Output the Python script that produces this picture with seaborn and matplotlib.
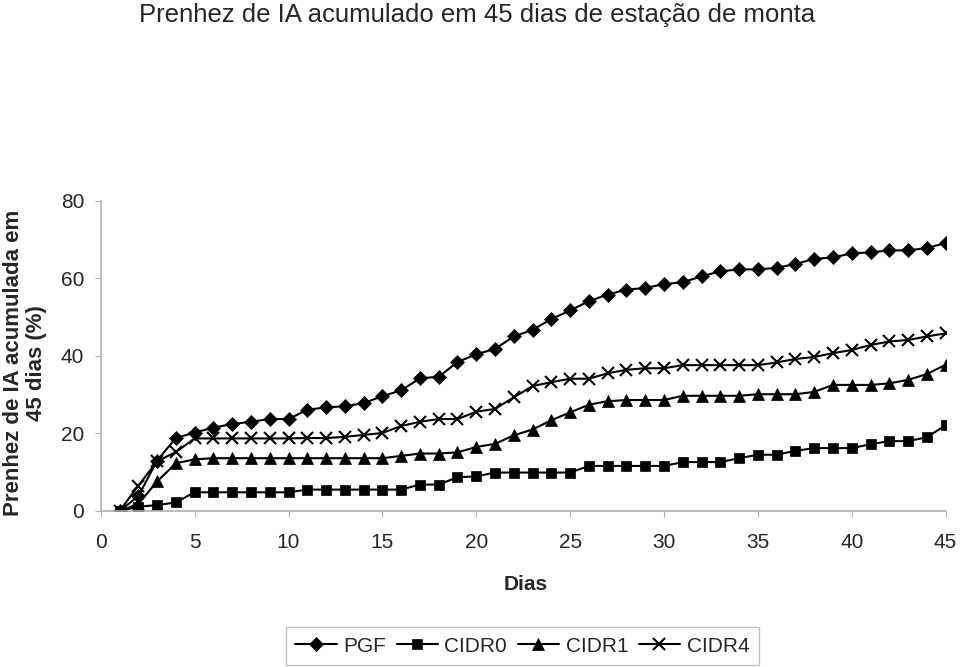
import matplotlib
matplotlib.use("Agg")
import matplotlib.pyplot as plt
import seaborn as sns
import pandas as pd

dias = list(range(1, 46))

pgf = [0, 3.8, 13.0, 18.8, 20.2, 21.5, 22.4, 23.0, 23.7, 23.7,
       26.1, 26.7, 27.0, 27.8, 29.6, 31.1, 34.2, 34.6, 38.4, 40.4,
       41.8, 45.0, 46.7, 49.5, 51.7, 54.1, 55.8, 57.1, 57.5, 58.5,
       59.0, 60.5, 61.8, 62.3, 62.3, 62.7, 63.7, 65.0, 65.4, 66.4,
       66.7, 67.2, 67.2, 67.8, 69.1]
cidr0 = [0, 1.1, 1.5, 2.2, 4.8, 4.8, 4.8, 4.8, 4.8, 4.8,
         5.5, 5.5, 5.5, 5.5, 5.5, 5.5, 6.8, 6.8, 8.7, 8.9,
         9.9, 9.9, 9.9, 9.9, 9.9, 11.6, 11.6, 11.6, 11.6, 11.6,
         12.6, 12.6, 12.6, 13.6, 14.5, 14.5, 15.5, 16.2, 16.2, 16.2,
         17.2, 18.0, 18.0, 19.0, 22.1]
cidr1 = [0, 1.8, 7.6, 12.3, 13.3, 13.6, 13.6, 13.6, 13.6, 13.6,
         13.6, 13.6, 13.6, 13.6, 13.6, 14.2, 14.8, 14.8, 15.1, 16.5,
         17.3, 19.5, 21.0, 23.4, 25.4, 27.4, 28.3, 28.6, 28.6, 28.6,
         29.7, 29.7, 29.7, 29.7, 30.1, 30.1, 30.1, 30.7, 32.5, 32.5,
         32.5, 32.9, 33.8, 35.3, 37.7]
cidr4 = [0, 6.5, 12.8, 15.2, 18.7, 18.7, 18.7, 18.7, 18.7, 18.7,
         18.8, 18.8, 19.1, 19.6, 20.1, 21.9, 23.0, 23.7, 23.7, 25.6,
         26.3, 29.3, 32.2, 33.2, 34.1, 34.1, 35.5, 36.4, 36.8, 36.8,
         37.6, 37.6, 37.6, 37.6, 37.6, 38.3, 39.2, 39.7, 40.7, 41.5,
         42.8, 43.7, 44.1, 45.0, 45.8]

series = ["PGF", "CIDR0", "CIDR1", "CIDR4"]
df = pd.DataFrame({
    "Dias": dias * 4,
    "valor": pgf + cidr0 + cidr1 + cidr4,
    "grupo": [s for s in series for _ in dias],
})

sns.set_style("white")
plt.rcParams["font.family"] = ["Liberation Sans", "DejaVu Sans"]

fig = plt.figure(figsize=(9.6, 6.67), dpi=100)
ax = fig.add_axes([0.105, 0.234, 0.88, 0.465])

marker_map = {"PGF": "D", "CIDR0": "s", "CIDR1": "^", "CIDR4": "x"}
size_map = {"PGF": 7, "CIDR0": 7, "CIDR1": 8.5, "CIDR4": 9}
for s in series:
    sub = df[df["grupo"] == s]
    sns.lineplot(data=sub, x="Dias", y="valor", ax=ax, color="black",
                 marker=marker_map[s], markersize=size_map[s],
                 markeredgewidth=1.5 if s == "CIDR4" else 0.5,
                 markeredgecolor="black", markerfacecolor="black",
                 linewidth=1.5, label=s)

ax.set_xlim(0, 45)
ax.set_ylim(0, 80)
ax.set_xticks(range(0, 46, 5))
ax.set_yticks(range(0, 81, 20))
ax.tick_params(axis="both", labelsize=15, direction="out", length=4,
               color="#b0b0b0", bottom=True, left=True)
ax.tick_params(axis="x", pad=12)
ax.tick_params(axis="y", pad=8)
for side in ["top", "right"]:
    ax.spines[side].set_visible(False)
for side in ["left", "bottom"]:
    ax.spines[side].set_color("#b0b0b0")
    ax.spines[side].set_linewidth(1.2)

ax.set_xlabel("Dias", fontsize=15, fontweight="bold")
ax.xaxis.set_label_coords(0.503, -0.205)
ax.set_ylabel("Prenhez de IA acumulada em\n45 dias (%)", fontsize=16,
              fontweight="bold", linespacing=1.1, multialignment="center")
ax.yaxis.set_label_coords(-0.064, 0.477)

fig.text(0.145, 0.995, "Prenhez de IA acumulado em 45 dias de estação de monta",
         fontsize=18.5, ha="left", va="top")

ax.legend(loc="lower center", bbox_to_anchor=(0.544, 0.003), bbox_transform=fig.transFigure,
          ncol=4, fontsize=15, frameon=True, fancybox=False, edgecolor="#b0b0b0",
          handlelength=2.0, columnspacing=0.5, handletextpad=0.3,
          borderpad=0.45, borderaxespad=0)

fig.savefig("out.png", dpi=100)
